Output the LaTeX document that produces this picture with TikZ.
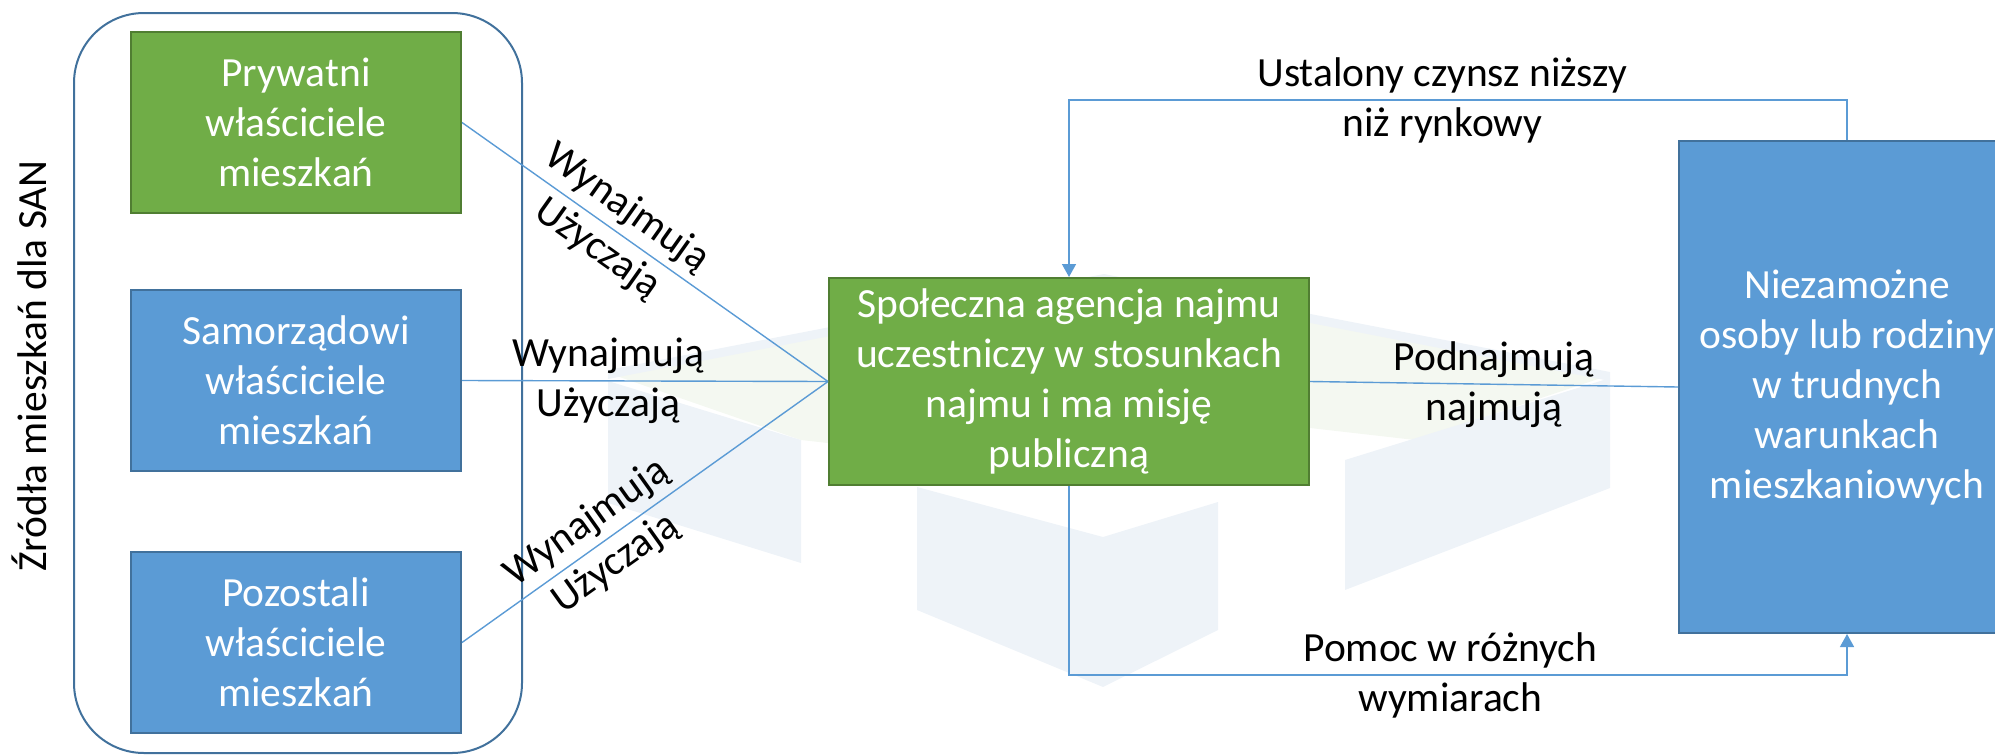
\documentclass[tikz,border=0pt]{standalone}
\usepackage{fontspec}
\setmainfont{Carlito}
\usetikzlibrary{arrows.meta}
\definecolor{cgreen}{HTML}{70AD47}
\definecolor{cgreendark}{HTML}{507E32}
\definecolor{cblue}{HTML}{5B9BD5}
\definecolor{cbluedark}{HTML}{41719C}
\definecolor{cline}{HTML}{5B9BD5}
\definecolor{wmgrey}{HTML}{EEF3F8}
\definecolor{wmgreen}{HTML}{F4F8F1}
\newcommand{\dgfont}{\fontsize{20.75}{25}\selectfont}
\tikzset{
  box/.style={draw, line width=1pt, text=white, align=center, font=\dgfont, inner sep=0pt},
  greenbox/.style={box, fill=cgreen, draw=cgreendark},
  bluebox/.style={box, fill=cblue, draw=cbluedark},
  lbl/.style={font=\dgfont, align=center, text=black, inner sep=0pt},
  conn/.style={draw=cline, line width=0.7pt},
  arr/.style={conn, -{Triangle[width=7pt,length=6.5pt]}},
  frame/.style={draw=cbluedark, line width=1pt, rounded corners=35pt},
  wmface/.style={fill=wmgreen},
  wmpiece/.style={fill=wmgrey}
}
\begin{document}
\begin{tikzpicture}[x=0.5pt,y=-0.5pt]
\useasboundingbox (0,0) rectangle (1995,755);
\clip (0,0) rectangle (1995,755);
% faint watermark (isometric block logo)
\fill[wmface] (608,373) -- (829,330) -- (1104,277) -- (1310,315) -- (1610,375) -- (1415,440) -- (1310,428) -- (1104,474) -- (801,440) -- cycle;
\fill[wmpiece] (608,370) -- (1104,274) -- (1610,372) -- (1610,381) -- (1104,283) -- (608,379) -- cycle;
\fill[wmpiece] (608,381) -- (801,440) -- (801,563) -- (608,503) -- cycle;
\fill[wmpiece] (917,487) -- (1103,537) -- (1218,502) -- (1218,630) -- (1103,687) -- (917,610) -- cycle;
\fill[wmpiece] (1345,460) -- (1610,378) -- (1610,488) -- (1345,590) -- cycle;

% frame and its label
\draw[frame] (74,13) rectangle (522,753);
\node[lbl, rotate=90] (src) at (29,366) {Źródła mieszkań dla SAN};

% boxes
\node[greenbox, minimum width=165pt, minimum height=90.5pt] (pryw) at (296,122.5) {Prywatni\\właściciele\\mieszkań};
\node[bluebox, minimum width=165pt, minimum height=90.5pt] (samo) at (296,380.5) {Samorządowi\\właściciele\\mieszkań};
\node[bluebox, minimum width=165pt, minimum height=90.5pt] (pozo) at (296,642.5) {Pozostali\\właściciele\\mieszkań};
\node[greenbox, minimum width=240pt, minimum height=103.5pt] (san) at (1069,381.5) {Społeczna agencja najmu\\uczestniczy w stosunkach\\najmu i ma misję\\publiczną};
\node[bluebox, minimum width=168pt, minimum height=246pt] (niez) at (1847,387) {Niezamożne\\osoby lub rodziny\\w trudnych\\warunkach\\mieszkaniowych};

% connectors from sources
\draw[conn] (pryw.east) -- node[lbl, sloped, pos=0.41] {Wynajmują\\Użyczają} (san.west);
\draw[conn] (samo.east) -- node[lbl, pos=0.40] {Wynajmują\\Użyczają} (san.west);
\draw[conn] (pozo.east) -- node[lbl, sloped, pos=0.38] {Wynajmują\\Użyczają} (san.west);

% SAN to households
\draw[conn] (san.east) -- node[lbl, pos=0.5] {Podnajmują\\najmują} (niez.west);

\coordinate (tr) at (1847,100);
\coordinate (tl) at (1069,100);
\coordinate (bl) at (1069,675);
\coordinate (br) at (1847,675);
\draw[arr] (niez.north) -- (tr) -- node[lbl, pos=0.52] {Ustalony czynsz niższy\\niż rynkowy} (tl) -- (san.north);
\draw[arr] (san.south) -- (bl) -- node[lbl, pos=0.49] {Pomoc w różnych\\wymiarach} (br) -- (niez.south);
\end{tikzpicture}
\end{document}
